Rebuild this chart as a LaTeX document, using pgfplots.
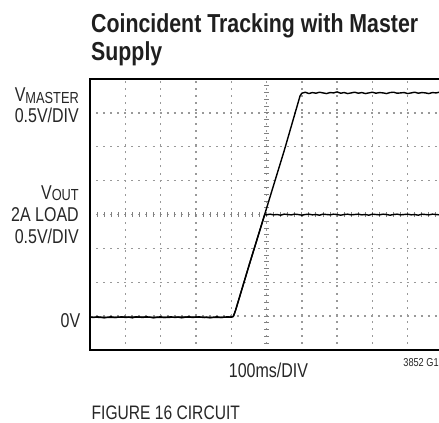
\documentclass[border=0pt]{standalone}
\usepackage{pgfplots}
\pgfplotsset{compat=1.18}
\usepackage{fontspec}
\setmainfont{Liberation Sans}[FakeStretch=0.8]
\newfontfamily\titfont{Liberation Sans}[FakeStretch=0.82]
\newcommand{\lab}{\fontsize{20bp}{22bp}\selectfont}
\newcommand{\subs}[1]{\raisebox{-1.8bp}{\fontsize{16bp}{16bp}\selectfont #1}}
\begin{document}
\begin{tikzpicture}[x=1bp,y=1bp]
\useasboundingbox (0,0) rectangle (439,422);
\clip (0,0) rectangle (439,422);
\begin{axis}[
  at={(90bp,72bp)}, anchor=south west, scale only axis,
  width=353bp, height=271bp,
  xmin=0, xmax=10, ymin=0, ymax=8,
  xtick={1,2,3,4,5,6,7,8,9}, ytick={1,2,3,4,5,6,7},
  xticklabels={}, yticklabels={},
  major tick length=0pt,
  xmajorgrids=true, ymajorgrids=true,
  major grid style={black!40, line width=1.4bp, dash pattern=on 2bp off 5.06bp, dash phase=1bp},
  axis line style={line width=1.1bp},
  clip=false,
]
% centre graticule minor ticks
\pgfplotsinvokeforeach{0.2,0.4,...,9.8}{
  \draw[black!50, line width=0.9bp] (axis cs:#1,4) ++(0,-2.4bp) -- ++(0,4.8bp);
}
\pgfplotsinvokeforeach{0.2,0.4,...,7.8}{
  \draw[black!50, line width=0.9bp] (axis cs:5,#1) ++(-2.4bp,0) -- ++(4.8bp,0);
}
% V_MASTER
\addplot[black, line width=1.4bp, line join=round] coordinates {
(0.0,0.97)(0.1,0.96)(0.2,0.98)(0.3,0.97)(0.4,0.95)(0.5,0.97)(0.6,0.98)(0.7,0.96)(0.8,0.97)(0.9,0.98)
(1.0,0.96)(1.1,0.97)(1.2,0.95)(1.3,0.98)(1.4,0.97)(1.5,0.96)(1.6,0.98)(1.7,0.97)(1.8,0.95)(1.9,0.97)
(2.0,0.98)(2.1,0.96)(2.2,0.97)(2.3,0.98)(2.4,0.96)(2.5,0.97)(2.6,0.95)(2.7,0.97)(2.8,0.98)(2.9,0.96)
(3.0,0.97)(3.1,0.98)(3.2,0.96)(3.3,0.97)(3.4,0.95)(3.5,0.97)(3.6,0.98)(3.7,0.96)(3.8,0.97)(3.9,0.98)
(4.0,0.97)(4.06,0.99)(4.12,1.16)(4.5,2.48)(4.95,4.01)(5.5,5.88)(5.95,7.50)(6.0,7.58)
(6.1,7.61)(6.2,7.57)(6.3,7.60)(6.4,7.58)(6.5,7.61)(6.6,7.59)(6.7,7.57)(6.8,7.60)(6.9,7.59)
(7.0,7.62)(7.1,7.58)(7.2,7.60)(7.3,7.57)(7.4,7.59)(7.5,7.61)(7.6,7.58)(7.7,7.60)(7.8,7.57)(7.9,7.59)
(8.0,7.61)(8.1,7.58)(8.2,7.60)(8.3,7.59)(8.4,7.57)(8.5,7.60)(8.6,7.61)(8.7,7.58)(8.8,7.59)(8.9,7.60)
(9.0,7.57)(9.1,7.59)(9.2,7.61)(9.3,7.58)(9.4,7.60)(9.5,7.59)(9.6,7.57)(9.7,7.60)(9.8,7.59)(9.9,7.61)(10.0,7.58)
};
% V_OUT
\addplot[black, line width=1.4bp, line join=round] coordinates {
(0.0,0.97)(0.5,0.96)(1.0,0.97)(1.5,0.97)(2.0,0.96)(2.5,0.97)(3.0,0.97)(3.5,0.96)(4.0,0.97)
(4.06,0.99)(4.12,1.16)(4.5,2.48)(4.95,4.00)
(5.0,3.99)(5.1,4.01)(5.2,3.99)(5.3,4.00)(5.4,3.98)(5.5,4.01)(5.6,4.00)(5.7,3.99)(5.8,4.01)(5.9,4.00)
(6.0,3.98)(6.1,4.00)(6.2,4.01)(6.3,3.99)(6.4,4.00)(6.5,3.98)(6.6,4.01)(6.7,4.00)(6.8,3.99)(6.9,4.01)
(7.0,4.00)(7.1,3.98)(7.2,4.00)(7.3,4.01)(7.4,3.99)(7.5,4.00)(7.6,4.01)(7.7,3.99)(7.8,4.00)(7.9,3.98)
(8.0,4.01)(8.1,4.00)(8.2,3.99)(8.3,4.01)(8.4,4.00)(8.5,3.98)(8.6,4.00)(8.7,4.01)(8.8,3.99)(8.9,4.00)
(9.0,4.01)(9.1,3.99)(9.2,4.00)(9.3,3.98)(9.4,4.01)(9.5,4.00)(9.6,3.99)(9.7,4.01)(9.8,4.00)(9.9,3.99)(10.0,4.01)
};
\end{axis}
% title
\node[anchor=base west, inner sep=0pt, text=black!88] at (91,389) {\titfont\bfseries\fontsize{26bp}{27bp}\selectfont Coincident Tracking with Master};
\node[anchor=base west, inner sep=0pt, text=black!88] at (91,362) {\titfont\bfseries\fontsize{26bp}{27bp}\selectfont Supply};
% left labels
\node[anchor=base east, inner sep=0pt, text=black!85] at (79,320.5) {\lab V\subs{MASTER}};
\node[anchor=base east, inner sep=0pt, text=black!85] at (79,300) {\lab 0.5V/DIV};
\node[anchor=base east, inner sep=0pt, text=black!85] at (79,223) {\lab V\subs{OUT}};
\node[anchor=base east, inner sep=0pt, text=black!85] at (79,201) {\lab 2A LOAD};
\node[anchor=base east, inner sep=0pt, text=black!85] at (79,179) {\lab 0.5V/DIV};
\node[anchor=base east, inner sep=0pt, text=black!85] at (80.5,95) {\lab 0V};
% bottom labels
\node[anchor=base, inner sep=0pt, text=black!85] at (268.5,45) {\lab 100ms/DIV};
\node[anchor=base east, inner sep=0pt, text=black!85] at (444,56) {\fontsize{11.5bp}{12bp}\selectfont 3852 G16};
\node[anchor=base west, inner sep=0pt, text=black!85] at (91.5,3) {\fontsize{19.5bp}{20bp}\selectfont FIGURE 16 CIRCUIT};
\end{tikzpicture}
\end{document}
